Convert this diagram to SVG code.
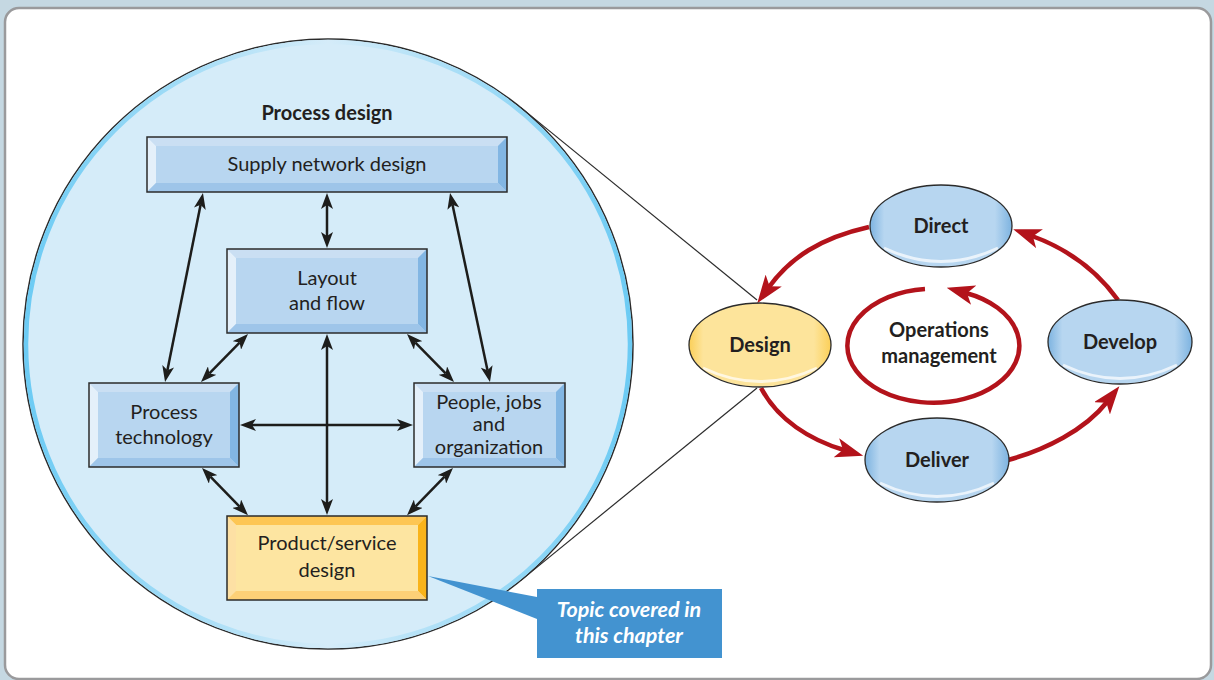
<svg xmlns="http://www.w3.org/2000/svg" width="1214" height="680" viewBox="0 0 1214 680">
  <style>
    .lbl { font-family: Lato, "Open Sans", "Liberation Sans", sans-serif; font-size: 20px; fill: #231f20; text-anchor: middle; }
    .bold { font-weight: bold; }
    .call { font-family: Lato, "Open Sans", "Liberation Sans", sans-serif; font-size: 21.5px; fill: #ffffff; font-style: italic; font-weight: bold; text-anchor: middle; }
    .edge { stroke: #2b2b2b; stroke-width: 1.5; fill: none; }
    .b-face { fill: #b8d6f0; }
    .b-top { fill: #cadff3; }
    .b-left { fill: #e4f0fa; }
    .b-right { fill: #82b6e3; }
    .b-bottom { fill: #9ec5e9; }
    .y-face { fill: #fde5a1; }
    .y-top { fill: #fdc654; }
    .y-left { fill: #fde0a4; }
    .y-right { fill: #f9b31a; }
    .y-bottom { fill: #fdd077; }
    .link { stroke: #1d1d1b; stroke-width: 2.5; fill: none; marker-start: url(#blk); marker-end: url(#blk); }
    .cycle { stroke: #b3131b; stroke-width: 4.5; fill: none; marker-end: url(#red); }
    .oval-edge { stroke: #2b2b2b; stroke-width: 1.3; }
    .shine { stroke: #ffffff; stroke-width: 3; fill: none; opacity: 0.7; }
    .zoomline { stroke: #2b2b2b; stroke-width: 1.2; fill: none; }
  </style>
  <defs>
    <marker id="blk" viewBox="0 0 16 12" refX="4" refY="6" markerWidth="16" markerHeight="12" markerUnits="userSpaceOnUse" orient="auto-start-reverse">
      <path d="M0,0 L16,6 L0,12 L4,6 z" fill="#1d1d1b"/>
    </marker>
    <marker id="red" viewBox="0 0 28 20" refX="8" refY="10" markerWidth="28" markerHeight="20" markerUnits="userSpaceOnUse" orient="auto">
      <path d="M0,0 L28,10 L0,20 L7,10 z" fill="#b3131b"/>
    </marker>
    <linearGradient id="rim" x1="0" y1="0" x2="1" y2="0">
      <stop offset="0" stop-color="#6ccbf4"/>
      <stop offset="0.5" stop-color="#d5ecf9"/>
      <stop offset="1" stop-color="#6ccbf4"/>
    </linearGradient>
    <linearGradient id="blueOval" x1="0" y1="0" x2="1" y2="0">
      <stop offset="0" stop-color="#7db3e0"/>
      <stop offset="0.1" stop-color="#b7d6f0"/>
      <stop offset="0.88" stop-color="#b7d6f0"/>
      <stop offset="1" stop-color="#7db3e0"/>
    </linearGradient>
    <linearGradient id="yellowOval" x1="0" y1="0" x2="1" y2="0">
      <stop offset="0" stop-color="#fbcf58"/>
      <stop offset="0.1" stop-color="#fde49b"/>
      <stop offset="0.88" stop-color="#fde49b"/>
      <stop offset="1" stop-color="#fbcf58"/>
    </linearGradient>
  </defs>

  <!-- page background and panel -->
  <rect x="0" y="0" width="1214" height="680" fill="#c5d8e2"/>
  <rect x="5" y="8" width="1206" height="671" rx="14" fill="#ffffff" stroke="#9a9a9c" stroke-width="2.5"/>

  <!-- zoom lines from the Design oval to the detail circle -->
  <g id="zoom-lines">
    <line class="zoomline" x1="520.5" y1="107.4" x2="757" y2="300"/>
    <line class="zoomline" x1="520.5" y1="580.6" x2="757" y2="388"/>
  </g>

  <!-- detail circle -->
  <g id="process-design">
    <circle cx="328" cy="344" r="305" fill="#d5ecf9" stroke="#2b2b2b" stroke-width="1.5"/>
    <circle cx="328" cy="344" r="302" fill="none" stroke="url(#rim)" stroke-width="4.5"/>
    <text class="lbl bold" x="327" y="120">Process design</text>
  </g>

  <!-- supply network design -->
  <g id="supply-network">
    <rect class="b-face" x="147" y="137" width="360" height="55"/>
    <polygon class="b-top" points="147,137 507,137 498,146 156,146"/>
    <polygon class="b-left" points="147,137 156,146 156,183 147,192"/>
    <polygon class="b-right" points="507,137 507,192 498,183 498,146"/>
    <polygon class="b-bottom" points="147,192 507,192 498,183 156,183"/>
    <rect class="edge" x="147" y="137" width="360" height="55"/>
    <text class="lbl" x="327" y="171">Supply network design</text>
  </g>

  <!-- layout and flow -->
  <g id="layout-flow">
    <rect class="b-face" x="227" y="249" width="200" height="84"/>
    <polygon class="b-top" points="227,249 427,249 418,258 236,258"/>
    <polygon class="b-left" points="227,249 236,258 236,324 227,333"/>
    <polygon class="b-right" points="427,249 427,333 418,324 418,258"/>
    <polygon class="b-bottom" points="227,333 427,333 418,324 236,324"/>
    <rect class="edge" x="227" y="249" width="200" height="84"/>
    <text class="lbl" x="327" y="285">Layout</text>
    <text class="lbl" x="327" y="310">and flow</text>
  </g>

  <!-- process technology -->
  <g id="process-technology">
    <rect class="b-face" x="89" y="383" width="150" height="84"/>
    <polygon class="b-top" points="89,383 239,383 230,392 98,392"/>
    <polygon class="b-left" points="89,383 98,392 98,458 89,467"/>
    <polygon class="b-right" points="239,383 239,467 230,458 230,392"/>
    <polygon class="b-bottom" points="89,467 239,467 230,458 98,458"/>
    <rect class="edge" x="89" y="383" width="150" height="84"/>
    <text class="lbl" x="164" y="419">Process</text>
    <text class="lbl" x="164" y="444">technology</text>
  </g>

  <!-- people, jobs and organization -->
  <g id="people-jobs">
    <rect class="b-face" x="414" y="383" width="151" height="84"/>
    <polygon class="b-top" points="414,383 565,383 556,392 423,392"/>
    <polygon class="b-left" points="414,383 423,392 423,458 414,467"/>
    <polygon class="b-right" points="565,383 565,467 556,458 556,392"/>
    <polygon class="b-bottom" points="414,467 565,467 556,458 423,458"/>
    <rect class="edge" x="414" y="383" width="151" height="84"/>
    <text class="lbl" x="489" y="409">People, jobs</text>
    <text class="lbl" x="489" y="431">and</text>
    <text class="lbl" x="489" y="454">organization</text>
  </g>

  <!-- product/service design -->
  <g id="product-service">
    <rect class="y-face" x="227" y="516" width="200" height="84"/>
    <polygon class="y-top" points="227,516 427,516 418,525 236,525"/>
    <polygon class="y-left" points="227,516 236,525 236,591 227,600"/>
    <polygon class="y-right" points="427,516 427,600 418,591 418,525"/>
    <polygon class="y-bottom" points="227,600 427,600 418,591 236,591"/>
    <rect class="edge" x="227" y="516" width="200" height="84"/>
    <text class="lbl" x="327" y="550">Product/service</text>
    <text class="lbl" x="327" y="577">design</text>
  </g>

  <!-- two-way links inside process design -->
  <g id="links">
    <line class="link" x1="327" y1="205" x2="327" y2="236"/>
    <line class="link" x1="200.6" y1="204.8" x2="167.4" y2="370.2"/>
    <line class="link" x1="452.5" y1="204.7" x2="487.5" y2="370.3"/>
    <line class="link" x1="239.6" y1="342.6" x2="209.4" y2="373.4"/>
    <line class="link" x1="415.4" y1="342.6" x2="445.6" y2="373.4"/>
    <line class="link" x1="327" y1="346" x2="327" y2="503"/>
    <line class="link" x1="252" y1="425" x2="401" y2="425"/>
    <line class="link" x1="210.4" y1="476.6" x2="239.6" y2="506.6"/>
    <line class="link" x1="444.6" y1="476.6" x2="415.4" y2="506.6"/>
  </g>

  <!-- callout -->
  <g id="callout">
    <polygon points="428,576 537,597 537,619" fill="#4393d0"/>
    <rect x="537" y="589" width="185" height="69" fill="#4393d0"/>
    <text class="call" x="629" y="617">Topic covered in</text>
    <text class="call" x="629" y="643">this chapter</text>
  </g>

  <!-- operations management cycle -->
  <g id="cycle-links">
    <path class="cycle" d="M869,227 C820,238 790,258 769,287"/>
    <path class="cycle" d="M761,388 C778,420 810,440 844,450"/>
    <path class="cycle" d="M1008,460 C1045,450 1085,430 1107,402"/>
    <path class="cycle" d="M1118,300 C1095,268 1065,248 1032,236"/>
  </g>

  <g id="ops-management">
    <path class="cycle" d="M925,289 A86,57 0 1 0 966,293"/>
    <text class="lbl bold" x="939" y="337">Operations</text>
    <text class="lbl bold" x="939" y="363">management</text>
  </g>

  <g id="direct">
    <ellipse cx="941" cy="226" rx="71" ry="41" fill="url(#blueOval)"/>
    <path class="shine" d="M884,248 Q941,275 998,248"/>
    <ellipse class="oval-edge" cx="941" cy="226" rx="71" ry="41" fill="none"/>
    <text class="lbl bold" x="941" y="233">Direct</text>
  </g>

  <g id="design">
    <ellipse cx="760" cy="345" rx="71" ry="42" fill="url(#yellowOval)"/>
    <path class="shine" d="M703,368 Q760,395 817,368"/>
    <ellipse class="oval-edge" cx="760" cy="345" rx="71" ry="42" fill="none"/>
    <text class="lbl bold" x="760" y="352">Design</text>
  </g>

  <g id="develop">
    <ellipse cx="1120" cy="342" rx="72" ry="42" fill="url(#blueOval)"/>
    <path class="shine" d="M1063,365 Q1120,392 1177,365"/>
    <ellipse class="oval-edge" cx="1120" cy="342" rx="72" ry="42" fill="none"/>
    <text class="lbl bold" x="1120" y="349">Develop</text>
  </g>

  <g id="deliver">
    <ellipse cx="937" cy="460" rx="72" ry="42" fill="url(#blueOval)"/>
    <path class="shine" d="M880,483 Q937,510 994,483"/>
    <ellipse class="oval-edge" cx="937" cy="460" rx="72" ry="42" fill="none"/>
    <text class="lbl bold" x="937" y="467">Deliver</text>
  </g>
</svg>
